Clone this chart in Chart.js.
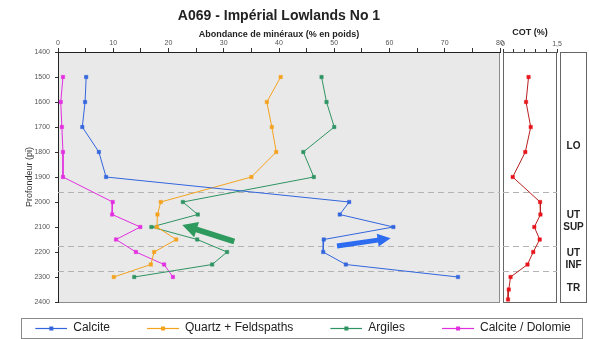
<!DOCTYPE html>
<html><head><meta charset="utf-8">
<script src="https://cdn.jsdelivr.net/npm/chart.js@4/dist/chart.umd.min.js"></script>
<style>
html,body{margin:0;padding:0;background:#fff;overflow:hidden;}
#wrap{position:relative;width:589px;height:339px;overflow:hidden;}
canvas{position:absolute;left:0;top:0;}
#main{left:-15px;}
</style></head><body>
<div id="wrap">
<canvas id="main" width="620" height="344"></canvas>
<canvas id="cot" width="589" height="339"></canvas>
<canvas id="zones" width="589" height="339"></canvas>
</div>
<script>
// ---- data ----
const depths = [1500, 1600, 1700, 1800, 1900, 2000, 2050, 2100, 2150, 2200, 2250, 2300];
const calcite = [5.1, 4.9, 4.4, 7.4, 8.7, 52.7, 51.0, 60.7, 48.1, 48.0, 52.1, 72.4];
const quartzFeldspaths = [40.3, 37.8, 38.7, 39.5, 35.0, 18.6, 18.0, 17.9, 21.4, 17.4, 16.8, 10.1];
const argiles = [47.7, 48.6, 50.0, 44.4, 46.3, 22.6, 25.3, 16.9, 25.2, 30.6, 27.9, 13.8];
const calciteDolomie = [0.9, 0.5, 0.7, 0.9, 0.9, 9.9, 9.8, 14.9, 10.5, 14.1, 19.2, 20.8];
const seriesNames = ['Calcite', 'Quartz + Feldspaths', 'Argiles', 'Calcite / Dolomie'];
const seriesColors = ['#3366dd', '#f5a31f', '#2f9463', '#e22ee0'];

const cotDepths = [1500, 1600, 1700, 1800, 1900, 2000, 2050, 2100, 2150, 2200, 2250, 2300, 2350, 2390];
const cotValues = [0.71, 0.64, 0.77, 0.62, 0.27, 1.03, 1.04, 0.87, 1.02, 0.84, 0.68, 0.21, 0.16, 0.14];
const cotTickValues = [0, 0.3, 0.6, 0.9, 1.2, 1.5];
const cotTickLabels = ['0', '', '', '', '', '1,5'];

const zoneBoundaries = [1960, 2175, 2275];
const zoneNames = [['LO'], ['UT', 'SUP'], ['UT', 'INF'], ['TR']];
const zoneLabelDepths = [1775, 2075, 2230, 2345];

const arrowFrom = [[31.9, 2158], [50.5, 2176]];
const arrowTo = [[22.5, 2092], [60.2, 2145]];
const arrowColors = ['#2e9a5e', '#2d6cf0'];

// ---- setup ----
const FONT = "'Liberation Sans', Arial, Helvetica, sans-serif";
Chart.defaults.font.family = FONT;
Chart.defaults.animation = false;
Chart.defaults.responsive = false;
Chart.defaults.plugins.tooltip.enabled = false;

const LEG_GAP = 27;   // transparent lead-in of each legend marker
const LEG_LINE = 32;  // visible line length of each legend marker

function pts(xs, ys) { return xs.map((v, i) => ({ x: v, y: ys[i] })); }

function legendImage(color) {
  const c = document.createElement('canvas');
  c.width = LEG_GAP + LEG_LINE; c.height = 12;
  const g = c.getContext('2d');
  g.strokeStyle = color; g.lineWidth = 1.2;
  g.beginPath(); g.moveTo(LEG_GAP, 6.5); g.lineTo(LEG_GAP + LEG_LINE, 6.5); g.stroke();
  g.fillStyle = color; g.fillRect(LEG_GAP + LEG_LINE / 2 - 2, 4.5, 4, 4);
  return c;
}
const legendImgs = seriesColors.map(legendImage);

const panelPlugin = {
  id: 'panel',
  beforeDraw(chart, args, opts) {
    const { ctx, chartArea: a } = chart;
    ctx.save();
    ctx.fillStyle = opts.bg;
    ctx.fillRect(a.left, a.top, a.right - a.left, a.bottom - a.top);
    ctx.strokeStyle = opts.frame; ctx.lineWidth = 1;
    ctx.strokeRect(a.left + 0.5, a.top + 0.5, a.right - a.left - 1, a.bottom - a.top);
    ctx.restore();
  },
  beforeDatasetsDraw(chart, args, opts) {
    if (!opts.dashes) return;
    const { ctx, chartArea: a, scales: { y } } = chart;
    ctx.save();
    ctx.setLineDash([6, 4]); ctx.strokeStyle = '#b3b3b3'; ctx.lineWidth = 1;
    zoneBoundaries.forEach(d => {
      const py = Math.round(y.getPixelForValue(d)) + 0.5;
      ctx.beginPath(); ctx.moveTo(a.left, py); ctx.lineTo(a.right, py); ctx.stroke();
    });
    ctx.restore();
  }
};

const arrowPlugin = {
  id: 'arrows',
  afterDatasetsDraw(chart) {
    const { ctx, scales: { x, y } } = chart;
    ctx.save();
    arrowFrom.forEach((f, i) => {
      const x0 = x.getPixelForValue(f[0]), y0 = y.getPixelForValue(f[1]);
      const x1 = x.getPixelForValue(arrowTo[i][0]), y1 = y.getPixelForValue(arrowTo[i][1]);
      const L = Math.hypot(x1 - x0, y1 - y0);
      const ux = (x1 - x0) / L, uy = (y1 - y0) / L, nx = -uy, ny = ux;
      const sw = i === 0 ? 2.8 : 2.5, hw = i === 0 ? 8 : 6.5, hl = i === 0 ? 15 : 13;
      const bx = x1 - ux * hl, by = y1 - uy * hl;
      ctx.fillStyle = arrowColors[i];
      ctx.beginPath();
      ctx.moveTo(x0 + nx * sw, y0 + ny * sw);
      ctx.lineTo(bx + nx * sw, by + ny * sw);
      ctx.lineTo(bx + nx * hw, by + ny * hw);
      ctx.lineTo(x1, y1);
      ctx.lineTo(bx - nx * hw, by - ny * hw);
      ctx.lineTo(bx - nx * sw, by - ny * sw);
      ctx.lineTo(x0 - nx * sw, y0 - ny * sw);
      ctx.closePath(); ctx.fill();
    });
    ctx.restore();
  }
};

const legendBoxPlugin = {
  id: 'legendBox',
  afterDraw(chart) {
    const lg = chart.legend; if (!lg || !lg.legendHitBoxes.length) return;
    const hb = lg.legendHitBoxes, last = hb[hb.length - 1];
    const left = hb[0].left + LEG_GAP - 14, right = last.left + last.width + 12;
    const cy = hb[0].top + 6;
    const { ctx } = chart;
    ctx.save(); ctx.strokeStyle = '#8a8a8a'; ctx.lineWidth = 1;
    ctx.strokeRect(Math.round(left) + 0.5, Math.round(cy - 10) + 0.5, Math.round(right - left), 20);
    ctx.restore();
  }
};

// ---- main chart ----
new Chart(document.getElementById('main'), {
  type: 'scatter',
  data: {
    datasets: [calcite, quartzFeldspaths, argiles, calciteDolomie].map((vals, i) => ({
      label: seriesNames[i],
      data: pts(vals, depths),
      showLine: true,
      borderColor: seriesColors[i],
      backgroundColor: seriesColors[i],
      borderWidth: 1,
      pointStyle: 'rect',
      pointRadius: 2.4,
      pointBorderWidth: 0.5,
      pointBackgroundColor: seriesColors[i],
      pointBorderColor: seriesColors[i]
    }))
  },
  options: {
    layout: { padding: { left: 0, right: 11, top: 0, bottom: 0 } },
    scales: {
      x: {
        type: 'linear', position: 'top', min: 0, max: 80,
        ticks: { stepSize: 5, autoSkip: false, maxRotation: 0, padding: 1, font: { size: 7 }, color: '#555',
          callback: v => (v % 10 === 0 ? String(v) : '') },
        grid: { drawOnChartArea: false, drawTicks: true, tickLength: 4, color: '#333' },
        border: { display: true, color: '#222', width: 1 },
        title: { display: true, text: 'Abondance de minéraux (% en poids)', font: { size: 9, weight: 'bold' }, color: '#222', padding: { top: 0, bottom: 0 } },
        afterFit(s) { s.height = 23.2; }
      },
      y: {
        type: 'linear', position: 'left', reverse: true, min: 1400, max: 2400,
        ticks: { stepSize: 100, autoSkip: false, padding: 5, font: { size: 7 }, color: '#555', callback: v => String(v) },
        grid: { drawOnChartArea: false, tickLength: 3, color: '#333' },
        border: { display: true, color: '#222', width: 1 },
        title: { display: true, text: 'Profondeur (pi)', font: { size: 9 }, color: '#333', padding: { top: 39.6, bottom: 0 } },
        afterFit(s) { s.width = 73; }
      },
      yR: {
        type: 'linear', position: 'right', display: true,
        ticks: { display: false }, grid: { display: false }, border: { display: false },
        afterFit(s) { s.width = 94; }
      },
      xB: {
        type: 'linear', position: 'bottom', display: true,
        ticks: { display: false }, grid: { display: false }, border: { display: false },
        afterFit(s) { s.height = 10; }
      }
    },
    plugins: {
      title: { display: true, text: 'A069 - Impérial Lowlands No 1', font: { size: 14, weight: 'bold' }, color: '#222', padding: { top: 8, bottom: 4 }, fullSize: false },
      legend: {
        display: true, position: 'bottom',
        labels: {
          usePointStyle: true, pointStyleWidth: LEG_GAP + LEG_LINE, padding: 10, font: { size: 12 }, color: '#222',
          generateLabels: chart => chart.data.datasets.map((ds, i) => ({
            text: ds.label, pointStyle: legendImgs[i], fillStyle: 'rgba(0,0,0,0)', strokeStyle: 'rgba(0,0,0,0)',
            lineWidth: 0, hidden: false, datasetIndex: i, fontColor: '#222'
          }))
        }
      },
      panel: { bg: '#e9e9e9', frame: '#8c8c8c', dashes: true }
    }
  },
  plugins: [panelPlugin, arrowPlugin, legendBoxPlugin]
});

// ---- COT chart ----
new Chart(document.getElementById('cot'), {
  type: 'scatter',
  data: {
    datasets: [{
      label: 'COT (%)',
      data: pts(cotValues, cotDepths),
      showLine: true,
      borderColor: '#b82020',
      borderWidth: 1,
      pointStyle: 'rect',
      pointRadius: 2.4,
      pointBorderWidth: 0.5,
      pointBackgroundColor: '#e8141c',
      pointBorderColor: '#e8141c'
    }]
  },
  options: {
    layout: { padding: { left: 503, right: 32, top: 0, bottom: 37 } },
    scales: {
      x: {
        type: 'linear', position: 'top', min: 0, max: 1.5,
        afterBuildTicks(s) { s.ticks = cotTickValues.map(v => ({ value: v })); },
        ticks: { autoSkip: false, maxRotation: 0, padding: 1, font: { size: 7 }, color: '#555',
          callback: (v, i) => cotTickLabels[i] },
        grid: { drawOnChartArea: false, tickLength: 3, color: '#333' },
        border: { display: true, color: '#555', width: 1 },
        title: { display: true, text: 'COT (%)', font: { size: 9, weight: 'bold' }, color: '#222', padding: { top: 27.6, bottom: 0 } },
        afterFit(s) { s.height = 52; }
      },
      y: { type: 'linear', display: false, reverse: true, min: 1400, max: 2400 }
    },
    plugins: {
      legend: { display: false },
      panel: { bg: '#ffffff', frame: '#666', dashes: true }
    }
  },
  plugins: [panelPlugin]
});

// ---- zones panel ----
const zoneLabelPlugin = {
  id: 'zoneLabels',
  afterDraw(chart) {
    const { ctx, chartArea: a, scales: { y } } = chart;
    ctx.save();
    ctx.fillStyle = '#222';
    ctx.font = 'bold 10px ' + FONT;
    ctx.textAlign = 'center'; ctx.textBaseline = 'middle';
    const cx = (a.left + a.right) / 2;
    zoneNames.forEach((lines, i) => {
      const cy = y.getPixelForValue(zoneLabelDepths[i]);
      lines.forEach((t, j) => ctx.fillText(t, cx, cy + (j - (lines.length - 1) / 2) * 12));
    });
    ctx.restore();
  }
};
new Chart(document.getElementById('zones'), {
  type: 'scatter',
  data: { datasets: [{ data: [] }] },
  options: {
    layout: { padding: { left: 560, right: 2, top: 52, bottom: 37 } },
    scales: {
      x: { type: 'linear', display: false, min: 0, max: 1 },
      y: { type: 'linear', display: false, reverse: true, min: 1400, max: 2400 }
    },
    plugins: { legend: { display: false }, panel: { bg: '#ffffff', frame: '#666', dashes: false } }
  },
  plugins: [panelPlugin, zoneLabelPlugin]
});
</script>
</body></html>
